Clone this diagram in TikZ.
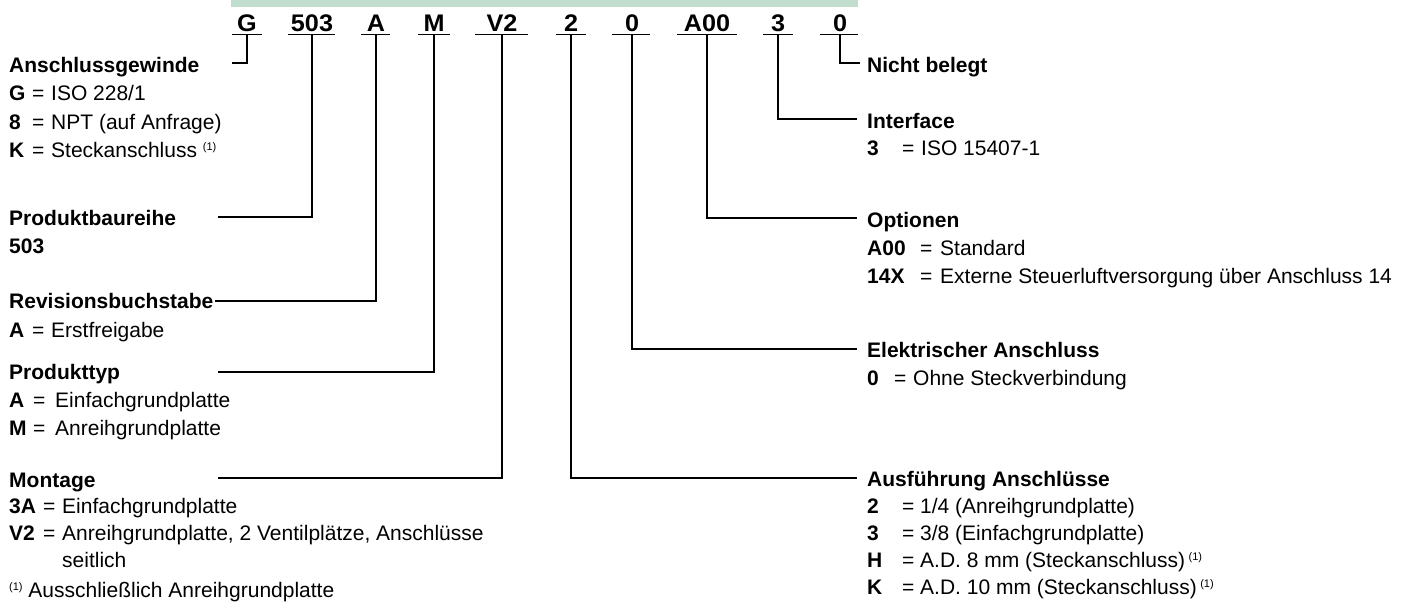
\documentclass[tikz,border=0pt]{standalone}
\usepackage{fontspec}
\setmainfont{Liberation Sans}
\usepackage{graphicx}
\definecolor{barg}{RGB}{192,221,206}
\newcommand{\cd}[1]{\scalebox{1.05}[1]{#1}}
\newcommand{\fnm}{{\fontsize{11}{11}\selectfont\raisebox{6.5pt}{(1)}}}
\begin{document}
\begin{tikzpicture}[x=1pt,y=-1pt,
  txt/.style={anchor=base west, inner sep=0pt, font=\fontsize{21}{25}\selectfont},
  hd/.style={anchor=base west, inner sep=0pt, font=\fontsize{21}{25}\selectfont\bfseries},
  code/.style={anchor=base, inner sep=0pt, font=\fontsize{24}{28}\selectfont\bfseries},
  ln/.style={line width=1.6pt}]
\useasboundingbox (0,0) rectangle (1418,608);
\fill[barg] (231,0) rectangle (858,7);

% code letters
\node[code] (cG)   at (247,31) {\cd{G}};
\node[code] (c503) at (312,31) {\cd{503}};
\node[code] (cA)   at (376,31) {\cd{A}};
\node[code] (cM)   at (434,31) {\cd{M}};
\node[code] (cV)   at (502,31) {\cd{V2}};
\node[code] (c2)   at (571,31) {\cd{2}};
\node[code] (c0)   at (632,31) {\cd{0}};
\node[code] (cA00) at (707,31) {\cd{A00}};
\node[code] (c3)   at (778,31) {\cd{3}};
\node[code] (c0b)  at (840,31) {\cd{0}};

% underlines
\draw[ln] (232,34.5) -- (262,34.5);
\draw[ln] (288,34.5) -- (335,34.5);
\draw[ln] (361,34.5) -- (390,34.5);
\draw[ln] (418,34.5) -- (450,34.5);
\draw[ln] (475,34.5) -- (528,34.5);
\draw[ln] (556,34.5) -- (586,34.5);
\draw[ln] (612,34.5) -- (650,34.5);
\draw[ln] (677,34.5) -- (737,34.5);
\draw[ln] (763,34.5) -- (793,34.5);
\draw[ln] (820,34.5) -- (858,34.5);

\coordinate (uG)   at (247,34.5);
\coordinate (u503) at (312,34.5);
\coordinate (uA)   at (376,34.5);
\coordinate (uM)   at (434,34.5);
\coordinate (uV)   at (502,34.5);
\coordinate (u2)   at (571,34.5);
\coordinate (u0)   at (632,34.5);
\coordinate (uA00) at (707,34.5);
\coordinate (u3)   at (778,34.5);
\coordinate (u0b)  at (840,34.5);

% line ends
\coordinate (eG)   at (232,63);
\coordinate (e503) at (218,217);
\coordinate (eA)   at (215,301);
\coordinate (eM)   at (218,372);
\coordinate (eV)   at (218,478);
\coordinate (e2)   at (857,478);
\coordinate (e0)   at (857,349);
\coordinate (eA00) at (857,218);
\coordinate (e3)   at (857,119);
\coordinate (e0b)  at (860,63);

\draw[ln] (uG) |- (eG);
\draw[ln] (u503) |- (e503);
\draw[ln] (uA) |- (eA);
\draw[ln] (uM) |- (eM);
\draw[ln] (uV) |- (eV);
\draw[ln] (u2) |- (e2);
\draw[ln] (u0) |- (e0);
\draw[ln] (uA00) |- (eA00);
\draw[ln] (u3) |- (e3);
\draw[ln] (u0b) |- (e0b);

% left texts
\node[hd] (hAnsch) at (9,72) {Anschlussgewinde};
\node[hd] (kG) at (9,100) {G};  \node[txt] at (32,100) {=}; \node[txt] at (51,100) {ISO 228/1};
\node[hd] (k8) at (9,129) {8};  \node[txt] at (32,129) {=}; \node[txt] at (51,129) {NPT (auf Anfrage)};
\node[hd] (kK) at (9,157) {K};  \node[txt] at (32,157) {=}; \node[txt] at (51,157) {Steckanschluss \fnm};

\node[hd] (hProd) at (9,225) {Produktbaureihe};
\node[hd] at (9,253) {503};

\node[hd] (hRev) at (9,308) {Revisionsbuchstabe};
\node[hd] at (9,337) {A}; \node[txt] at (32,337) {=}; \node[txt] at (51,337) {Erstfreigabe};

\node[hd] (hTyp) at (9,379) {Produkttyp};
\node[hd] at (9,407) {A}; \node[txt] at (33,407) {=}; \node[txt] at (55,407) {Einfachgrundplatte};
\node[hd] at (9,435) {M}; \node[txt] at (33,435) {=}; \node[txt] at (55,435) {Anreihgrundplatte};

\node[hd] (hMon) at (9,487) {Montage};
\node[hd] at (9,513) {3A}; \node[txt] at (43,513) {=}; \node[txt] at (62,513) {Einfachgrundplatte};
\node[hd] at (9,540) {V2}; \node[txt] at (43,540) {=}; \node[txt] at (62,540) {Anreihgrundplatte, 2 Ventilplätze, Anschlüsse};
\node[txt] at (62,567) {seitlich};
\node[txt] at (9,597) {\fnm\ Ausschließlich Anreihgrundplatte};

% right texts
\node[hd] (hNicht) at (867,72) {Nicht belegt};

\node[hd] (hInt) at (867,128) {Interface};
\node[hd] at (867,155) {3}; \node[txt] at (902,155) {=}; \node[txt] at (921,155) {ISO 15407-1};

\node[hd] (hOpt) at (867,227) {Optionen};
\node[hd] at (867,255) {A00}; \node[txt] at (920,255) {=}; \node[txt] at (940,255) {Standard};
\node[hd] at (867,283) {14X}; \node[txt] at (920,283) {=}; \node[txt] at (940,283) {Externe Steuerluftversorgung über Anschluss 14};

\node[hd] (hEl) at (867,357) {Elektrischer Anschluss};
\node[hd] at (867,385) {0}; \node[txt] at (894,385) {=}; \node[txt] at (913,385) {Ohne Steckverbindung};

\node[hd] (hAus) at (867,486) {Ausführung Anschlüsse};
\node[hd] at (867,513) {2}; \node[txt] at (902,513) {=}; \node[txt] at (920,513) {1/4 (Anreihgrundplatte)};
\node[hd] at (867,540) {3}; \node[txt] at (902,540) {=}; \node[txt] at (920,540) {3/8 (Einfachgrundplatte)};
\node[hd] at (867,567) {H}; \node[txt] at (902,567) {=}; \node[txt] at (920,567) {A.D. 8 mm (Steckanschluss)\,\fnm};
\node[hd] at (867,594) {K}; \node[txt] at (902,594) {=}; \node[txt] at (920,594) {A.D. 10 mm (Steckanschluss)\,\fnm};
\end{tikzpicture}
\end{document}
